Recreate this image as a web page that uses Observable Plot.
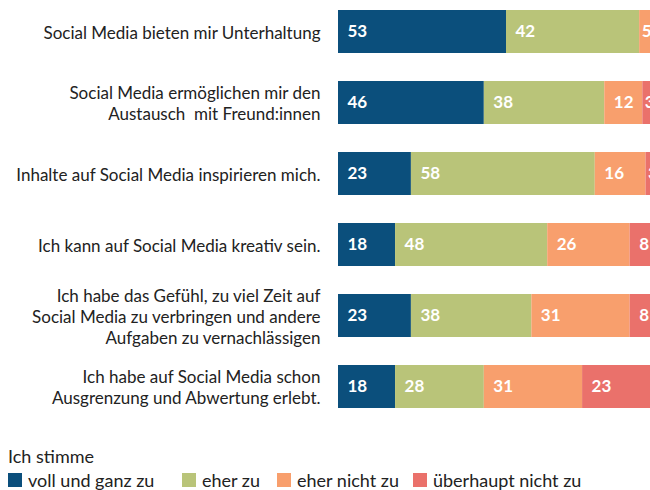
<!DOCTYPE html>
<html>
<head>
<meta charset="utf-8">
<script src="https://cdn.jsdelivr.net/npm/d3@7"></script>
<script src="https://cdn.jsdelivr.net/npm/@observablehq/plot@0.6"></script>
<style>
  html, body { margin: 0; padding: 0; background: #fff; overflow: hidden; width: 650px; height: 490px; }
  #wrap { position: relative; width: 650px; height: 490px; overflow: hidden; font-family: Lato, sans-serif; color: #222; }
  #chart svg { display: block; max-width: none !important; }
  #legend-title { position: absolute; left: 8px; top: 445px; font-size: 18px; }
  .lg { position: absolute; top: 469px; font-size: 18px; display: flex; align-items: center; white-space: nowrap; }
  .lg span.sw { display: inline-block; width: 14px; height: 14px; margin-right: 6px; }
</style>
</head>
<body>
<div id="wrap">
  <div id="chart"></div>
  <div id="legend-title">Ich stimme</div>
  <div id="legend"></div>
</div>
<script>
const categories = ["voll und ganz zu", "eher zu", "eher nicht zu", "überhaupt nicht zu"];
const items = [
  "Social Media bieten mir Unterhaltung",
  "Social Media ermöglichen mir den\nAustausch  mit Freund:innen",
  "Inhalte auf Social Media inspirieren mich.",
  "Ich kann auf Social Media kreativ sein.",
  "Ich habe das Gefühl, zu viel Zeit auf\nSocial Media zu verbringen und andere\nAufgaben zu vernachlässigen",
  "Ich habe auf Social Media schon\nAusgrenzung und Abwertung erlebt."
];
const vollUndGanz = [53, 46, 23, 18, 23, 18];
const eherZu = [42, 38, 58, 48, 38, 28];
const eherNicht = [5, 12, 16, 26, 31, 31];
const ueberhauptNicht = [0, 3, 3, 8, 8, 23];
const colors = ["#0b4f7c", "#b9c479", "#f89f6d", "#ea716b"];
const legendX = [8, 182, 277, 413];

const series = [vollUndGanz, eherZu, eherNicht, ueberhauptNicht];
const data = items.flatMap((item, i) =>
  categories.map((cat, j) => ({item, cat, value: series[j][i]}))
).filter(d => d.value > 0);

const stackOpts = {x: "value", y: "item", z: "cat", order: categories};

const chart = Plot.plot({
  width: 660,
  height: 418,
  marginLeft: 338,
  marginRight: 5,
  marginTop: 0,
  marginBottom: 0,
  x: {domain: [0, 100], axis: null},
  y: {domain: items, paddingInner: 0.4, paddingOuter: 0.14, label: null, axis: null},
  color: {domain: categories, range: colors},
  style: {fontFamily: "Lato, sans-serif", fontSize: "17px", background: "white", maxWidth: "none"},
  marks: [
    Plot.barX(data, {x: "value", y: "item", fill: "cat", order: categories}),
    Plot.text(data, Plot.stackX1({...stackOpts,
      text: d => d.value >= 6 ? String(d.value) : null,
      textAnchor: "start", dx: 9, fill: "white", fontWeight: "bold", fontSize: 17})),
    Plot.text(data, Plot.stackX1({...stackOpts,
      text: d => d.value < 6 ? String(d.value) : null,
      textAnchor: "start", dx: 2, fill: "white", fontWeight: "bold", fontSize: 17})),
    Plot.axisY({tickSize: 0, tickPadding: 18, fontSize: 17, lineHeight: 1.24, label: null, fill: "#222"})
  ]
});
document.getElementById("chart").appendChild(chart);

const legend = document.getElementById("legend");
categories.forEach((c, i) => {
  const d = document.createElement("div");
  d.className = "lg";
  d.style.left = legendX[i] + "px";
  d.innerHTML = `<span class="sw" style="background:${colors[i]}"></span>${c}`;
  legend.appendChild(d);
});
</script>
</body>
</html>
